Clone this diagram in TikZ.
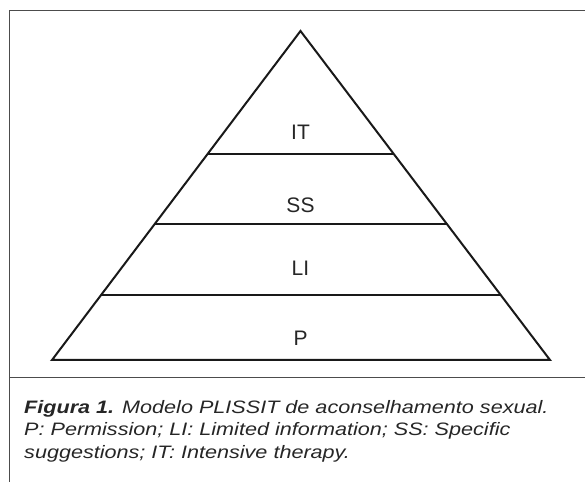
\documentclass[tikz,border=0pt]{standalone}
\usepackage{fontspec}
\setmainfont{Liberation Sans}
\newfontfamily\capfont[FakeStretch=1.2]{Liberation Sans}
\usetikzlibrary{calc}

\tikzset{
  frame/.style={draw=black!70, line width=1pt},
  tier/.style={draw=black!90, line width=2pt, line join=miter},
  lbl/.style={font=\fontsize{21}{24}\selectfont, text=black!85, inner sep=0pt},
  caption/.style={font=\capfont\fontsize{18}{22.5}\selectfont\itshape, text=black!85, align=left, inner sep=0pt}
}

\begin{document}
\begin{tikzpicture}[x=1pt,y=1pt]
\useasboundingbox (0,0) rectangle (585,481);
% frame round the figure and its caption
\draw[frame] (590,470) -- (9,470) -- (9,-5);
\draw[frame] (9,103) -- (590,103);
% pyramid
\coordinate (apex) at (300.5,450);
\coordinate (bl) at (52,121);
\coordinate (br) at (550,121);
\draw[tier] (bl) -- (apex) -- (br) -- cycle;
\foreach \t in {0.1976, 0.4134, 0.626} {
\draw[tier] ($(bl)!\t!(apex)$) -- ($(br)!\t!(apex)$);
}
\foreach \n / \y in {P/143, LI/213, SS/276, IT/349} {
\node[lbl] (\n) at (300.5,\y) {\n};
}
\node[caption, anchor=north west] (cap) at (24,81)
  {\textbf{Figura 1.} Modelo PLISSIT de aconselhamento sexual.\\
   P: Permission; LI: Limited information; SS: Specific\\
   suggestions; IT: Intensive therapy.};
\end{tikzpicture}
\end{document}
